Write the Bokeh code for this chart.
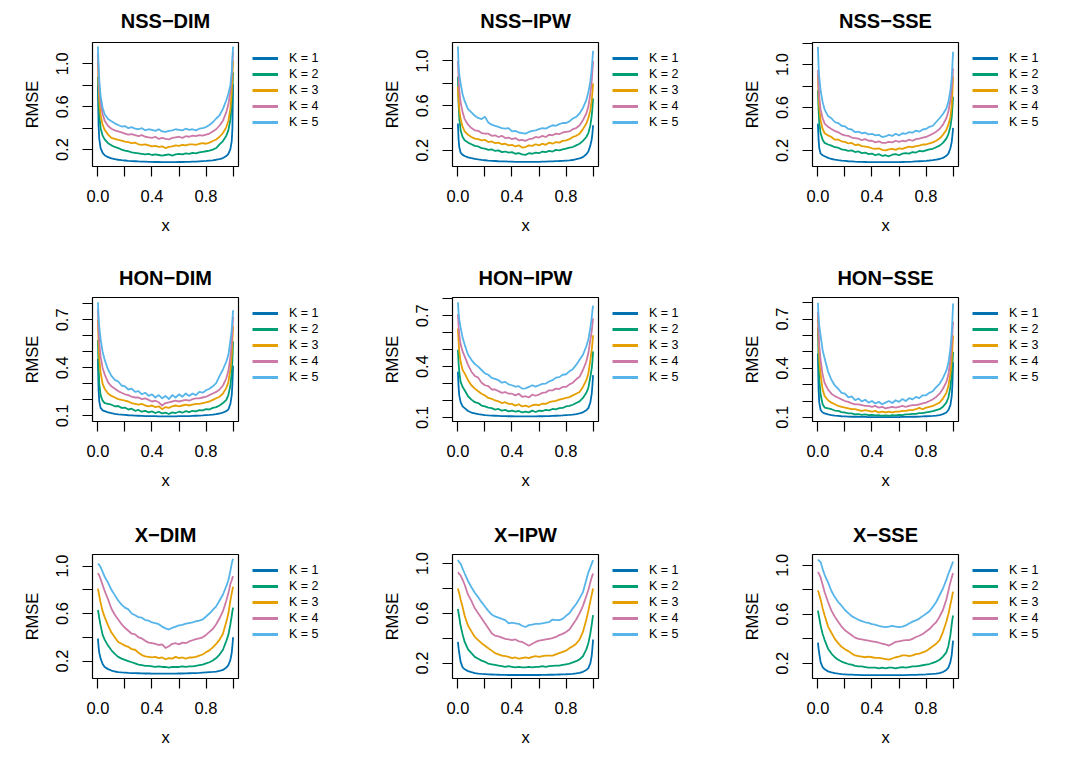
from bokeh.plotting import figure
from bokeh.layouts import gridplot
from bokeh.models import FixedTicker, Legend, LegendItem, Range1d, NumeralTickFormatter
from bokeh.embed import file_html
from bokeh.resources import INLINE

# ---------------- data ----------------
X = [0.0, 0.005, 0.01, 0.02, 0.035, 0.05, 0.075,
     0.1, 0.125, 0.15, 0.175, 0.2, 0.225, 0.25, 0.275,
     0.3, 0.325, 0.35, 0.375, 0.4, 0.425, 0.45, 0.475,
     0.5, 0.525, 0.55, 0.575, 0.6, 0.625, 0.65, 0.675,
     0.7, 0.725, 0.75, 0.775, 0.8, 0.825, 0.85, 0.875,
     0.9, 0.925, 0.95, 0.965, 0.98, 0.99, 0.995, 1.0]

K_LABELS = ["K = 1", "K = 2", "K = 3", "K = 4", "K = 5"]
COLORS = ["#0072B2", "#009E73", "#E69F00", "#CC79A7", "#56B4E9"]
TITLES = ["NSS\u2212DIM", "NSS\u2212IPW", "NSS\u2212SSE",
          "HON\u2212DIM", "HON\u2212IPW", "HON\u2212SSE",
          "X\u2212DIM", "X\u2212IPW", "X\u2212SSE"]

# NSS-DIM
nss_dim_k1 = [0.80, 0.42, 0.30, 0.215, 0.17, 0.148, 0.13,
              0.118, 0.111, 0.106, 0.102, 0.099, 0.096, 0.094, 0.092,
              0.090, 0.089, 0.088, 0.087, 0.086, 0.085, 0.085, 0.084,
              0.084, 0.084, 0.084, 0.084, 0.085, 0.085, 0.086, 0.087,
              0.088, 0.089, 0.091, 0.093, 0.095, 0.098, 0.101, 0.106,
              0.112, 0.122, 0.14, 0.16, 0.205, 0.28, 0.40, 0.81]
nss_dim_k2 = [0.88, 0.66, 0.52, 0.40, 0.33, 0.295, 0.26,
              0.24, 0.225, 0.215, 0.20, 0.19, 0.185, 0.175, 0.17,
              0.165, 0.16, 0.155, 0.16, 0.15, 0.155, 0.15, 0.145,
              0.15, 0.155, 0.145, 0.155, 0.16, 0.155, 0.165, 0.16,
              0.17, 0.165, 0.175, 0.18, 0.185, 0.19, 0.20, 0.215,
              0.25, 0.28, 0.33, 0.38, 0.48, 0.62, 0.76, 0.92]
nss_dim_k3 = [1.02, 0.80, 0.66, 0.52, 0.43, 0.385, 0.34,
              0.31, 0.30, 0.29, 0.285, 0.275, 0.27, 0.26, 0.265,
              0.25, 0.245, 0.25, 0.24, 0.23, 0.235, 0.225, 0.23,
              0.215, 0.225, 0.23, 0.24, 0.235, 0.245, 0.24, 0.25,
              0.25, 0.245, 0.255, 0.26, 0.255, 0.265, 0.28, 0.295,
              0.32, 0.355, 0.41, 0.47, 0.58, 0.74, 0.88, 1.03]
nss_dim_k4 = [1.10, 0.90, 0.77, 0.63, 0.53, 0.47, 0.42,
              0.395, 0.38, 0.37, 0.36, 0.35, 0.34, 0.345, 0.335,
              0.325, 0.335, 0.32, 0.315, 0.31, 0.32, 0.30, 0.31,
              0.30, 0.295, 0.31, 0.315, 0.32, 0.31, 0.325, 0.32,
              0.33, 0.325, 0.335, 0.33, 0.34, 0.35, 0.37, 0.39,
              0.425, 0.47, 0.55, 0.62, 0.74, 0.88, 1.00, 1.11]
nss_dim_k5 = [1.16, 0.98, 0.85, 0.70, 0.59, 0.53, 0.485,
              0.465, 0.445, 0.43, 0.415, 0.42, 0.40, 0.41, 0.395,
              0.39, 0.40, 0.38, 0.39, 0.385, 0.375, 0.39, 0.37,
              0.365, 0.375, 0.38, 0.39, 0.385, 0.38, 0.395, 0.385,
              0.39, 0.38, 0.395, 0.40, 0.41, 0.43, 0.455, 0.49,
              0.52, 0.58, 0.66, 0.72, 0.80, 0.93, 1.06, 1.16]

# NSS-IPW
nss_ipw_k1 = [0.44, 0.30, 0.23, 0.18, 0.16, 0.15, 0.137,
              0.13, 0.124, 0.119, 0.115, 0.112, 0.109, 0.107, 0.105,
              0.103, 0.102, 0.101, 0.100, 0.099, 0.098, 0.098, 0.097,
              0.097, 0.097, 0.097, 0.098, 0.098, 0.099, 0.100, 0.101,
              0.102, 0.104, 0.105, 0.107, 0.109, 0.111, 0.114, 0.121,
              0.128, 0.14, 0.165, 0.19, 0.245, 0.30, 0.35, 0.425]
nss_ipw_k2 = [0.86, 0.62, 0.49, 0.38, 0.32, 0.29, 0.27,
              0.255, 0.24, 0.235, 0.22, 0.215, 0.205, 0.21, 0.195,
              0.20, 0.185, 0.19, 0.18, 0.185, 0.17, 0.175, 0.165,
              0.16, 0.175, 0.17, 0.18, 0.175, 0.19, 0.185, 0.195,
              0.19, 0.205, 0.20, 0.21, 0.215, 0.225, 0.23, 0.245,
              0.26, 0.285, 0.32, 0.355, 0.425, 0.51, 0.58, 0.665]
nss_ipw_k3 = [0.77, 0.65, 0.57, 0.48, 0.41, 0.37, 0.34,
              0.32, 0.305, 0.30, 0.29, 0.295, 0.275, 0.28, 0.265,
              0.27, 0.255, 0.26, 0.245, 0.25, 0.235, 0.245, 0.225,
              0.23, 0.245, 0.24, 0.255, 0.245, 0.26, 0.25, 0.27,
              0.26, 0.275, 0.27, 0.285, 0.29, 0.30, 0.32, 0.33,
              0.35, 0.39, 0.44, 0.49, 0.56, 0.65, 0.72, 0.80]
nss_ipw_k4 = [1.00, 0.85, 0.74, 0.63, 0.54, 0.48, 0.43,
              0.40, 0.38, 0.375, 0.355, 0.35, 0.35, 0.33, 0.335,
              0.32, 0.33, 0.31, 0.315, 0.30, 0.31, 0.29, 0.295,
              0.285, 0.30, 0.305, 0.32, 0.315, 0.33, 0.32, 0.34,
              0.335, 0.35, 0.345, 0.36, 0.365, 0.37, 0.39, 0.40,
              0.425, 0.47, 0.53, 0.59, 0.71, 0.82, 0.91, 1.00]
nss_ipw_k5 = [1.13, 0.96, 0.88, 0.80, 0.70, 0.64, 0.57,
              0.54, 0.51, 0.49, 0.48, 0.50, 0.45, 0.43, 0.42,
              0.41, 0.40, 0.395, 0.40, 0.37, 0.375, 0.36, 0.355,
              0.35, 0.365, 0.375, 0.38, 0.39, 0.40, 0.395, 0.41,
              0.425, 0.42, 0.435, 0.445, 0.445, 0.46, 0.485, 0.50,
              0.53, 0.58, 0.65, 0.72, 0.82, 0.93, 1.01, 1.09]

# NSS-SSE
nss_sse_k1 = [0.45, 0.30, 0.22, 0.17, 0.155, 0.145, 0.13,
              0.12, 0.114, 0.109, 0.105, 0.102, 0.099, 0.097, 0.095,
              0.094, 0.093, 0.092, 0.091, 0.091, 0.090, 0.090, 0.090,
              0.090, 0.090, 0.090, 0.091, 0.091, 0.092, 0.093, 0.094,
              0.095, 0.097, 0.099, 0.101, 0.103, 0.106, 0.110, 0.115,
              0.12, 0.13, 0.15, 0.17, 0.22, 0.28, 0.34, 0.41]
nss_sse_k2 = [0.76, 0.58, 0.46, 0.36, 0.30, 0.27, 0.255,
              0.245, 0.23, 0.225, 0.21, 0.205, 0.195, 0.20, 0.185,
              0.19, 0.175, 0.18, 0.165, 0.17, 0.155, 0.165, 0.15,
              0.155, 0.145, 0.16, 0.165, 0.155, 0.17, 0.175, 0.17,
              0.185, 0.18, 0.195, 0.19, 0.20, 0.21, 0.215, 0.23,
              0.245, 0.27, 0.31, 0.35, 0.42, 0.51, 0.60, 0.70]
nss_sse_k3 = [0.90, 0.72, 0.60, 0.48, 0.40, 0.36, 0.34,
              0.325, 0.30, 0.30, 0.285, 0.28, 0.265, 0.27, 0.25,
              0.255, 0.24, 0.235, 0.23, 0.22, 0.215, 0.22, 0.205,
              0.20, 0.21, 0.215, 0.205, 0.22, 0.215, 0.225, 0.235,
              0.23, 0.24, 0.245, 0.255, 0.255, 0.265, 0.275, 0.29,
              0.31, 0.345, 0.39, 0.44, 0.51, 0.62, 0.74, 0.89]
nss_sse_k4 = [0.95, 0.80, 0.70, 0.58, 0.50, 0.45, 0.42,
              0.40, 0.38, 0.37, 0.35, 0.34, 0.335, 0.32, 0.315,
              0.31, 0.295, 0.305, 0.29, 0.29, 0.275, 0.285, 0.27,
              0.27, 0.28, 0.275, 0.29, 0.28, 0.29, 0.285, 0.30,
              0.29, 0.305, 0.31, 0.32, 0.325, 0.34, 0.355, 0.375,
              0.40, 0.44, 0.50, 0.56, 0.67, 0.78, 0.87, 0.965]
nss_sse_k5 = [1.165, 0.98, 0.88, 0.76, 0.65, 0.58, 0.52,
              0.50, 0.465, 0.455, 0.43, 0.425, 0.40, 0.395, 0.37,
              0.375, 0.36, 0.365, 0.35, 0.355, 0.34, 0.345, 0.325,
              0.33, 0.345, 0.335, 0.355, 0.34, 0.36, 0.355, 0.37,
              0.365, 0.385, 0.375, 0.395, 0.40, 0.42, 0.43, 0.465,
              0.50, 0.54, 0.59, 0.65, 0.76, 0.88, 1.00, 1.12]

# HON-DIM
hon_dim_k1 = [0.455, 0.26, 0.19, 0.15, 0.135, 0.13, 0.122,
              0.117, 0.113, 0.110, 0.108, 0.106, 0.104, 0.103, 0.102,
              0.101, 0.100, 0.099, 0.099, 0.098, 0.098, 0.097, 0.097,
              0.097, 0.097, 0.097, 0.097, 0.098, 0.098, 0.099, 0.099,
              0.100, 0.101, 0.102, 0.103, 0.105, 0.106, 0.108, 0.111,
              0.115, 0.121, 0.13, 0.14, 0.175, 0.23, 0.30, 0.414]
hon_dim_k2 = [0.575, 0.40, 0.30, 0.23, 0.195, 0.18, 0.175,
              0.17, 0.16, 0.162, 0.15, 0.152, 0.14, 0.145, 0.132,
              0.137, 0.126, 0.132, 0.122, 0.128, 0.118, 0.126, 0.116,
              0.12, 0.112, 0.122, 0.118, 0.126, 0.12, 0.13, 0.124,
              0.132, 0.128, 0.136, 0.134, 0.142, 0.14, 0.15, 0.155,
              0.165, 0.18, 0.20, 0.23, 0.29, 0.37, 0.45, 0.565]
hon_dim_k3 = [0.70, 0.55, 0.46, 0.37, 0.30, 0.27, 0.24,
              0.225, 0.215, 0.205, 0.20, 0.195, 0.19, 0.18, 0.175,
              0.17, 0.175, 0.165, 0.16, 0.165, 0.155, 0.16, 0.142,
              0.155, 0.15, 0.16, 0.165, 0.16, 0.165, 0.17, 0.165,
              0.17, 0.175, 0.175, 0.18, 0.185, 0.19, 0.20, 0.21,
              0.22, 0.24, 0.275, 0.31, 0.39, 0.48, 0.57, 0.66]
hon_dim_k4 = [0.765, 0.64, 0.56, 0.47, 0.40, 0.36, 0.31,
              0.285, 0.27, 0.255, 0.245, 0.235, 0.23, 0.22, 0.215,
              0.215, 0.205, 0.21, 0.20, 0.19, 0.195, 0.185, 0.165,
              0.18, 0.185, 0.19, 0.195, 0.19, 0.195, 0.20, 0.195,
              0.205, 0.21, 0.21, 0.215, 0.22, 0.23, 0.24, 0.25,
              0.265, 0.29, 0.335, 0.38, 0.47, 0.56, 0.64, 0.72]
hon_dim_k5 = [0.81, 0.72, 0.66, 0.58, 0.50, 0.45, 0.39,
              0.35, 0.325, 0.315, 0.29, 0.285, 0.265, 0.27, 0.25,
              0.255, 0.235, 0.245, 0.225, 0.235, 0.215, 0.23, 0.21,
              0.225, 0.205, 0.23, 0.215, 0.235, 0.22, 0.24, 0.225,
              0.24, 0.23, 0.25, 0.245, 0.26, 0.27, 0.285, 0.305,
              0.35, 0.39, 0.44, 0.48, 0.57, 0.64, 0.70, 0.76]

# HON-IPW
hon_ipw_k1 = [0.37, 0.28, 0.23, 0.19, 0.165, 0.155, 0.138,
              0.129, 0.124, 0.12, 0.117, 0.114, 0.112, 0.111, 0.11,
              0.109, 0.108, 0.108, 0.107, 0.107, 0.106, 0.106, 0.106,
              0.106, 0.106, 0.106, 0.106, 0.107, 0.107, 0.108, 0.108,
              0.109, 0.110, 0.111, 0.112, 0.114, 0.115, 0.117, 0.12,
              0.124, 0.13, 0.143, 0.155, 0.19, 0.24, 0.29, 0.35]
hon_ipw_k2 = [0.50, 0.42, 0.37, 0.31, 0.28, 0.26, 0.225,
              0.205, 0.19, 0.185, 0.17, 0.165, 0.158, 0.155, 0.146,
              0.15, 0.14, 0.145, 0.136, 0.14, 0.134, 0.138, 0.13,
              0.135, 0.13, 0.14, 0.132, 0.14, 0.138, 0.145, 0.142,
              0.15, 0.148, 0.155, 0.156, 0.165, 0.168, 0.175, 0.185,
              0.195, 0.215, 0.245, 0.275, 0.34, 0.39, 0.43, 0.49]
hon_ipw_k3 = [0.625, 0.55, 0.49, 0.43, 0.38, 0.36, 0.32,
              0.29, 0.27, 0.255, 0.24, 0.23, 0.215, 0.21, 0.20,
              0.195, 0.185, 0.19, 0.18, 0.18, 0.17, 0.178, 0.165,
              0.17, 0.162, 0.172, 0.175, 0.172, 0.182, 0.18, 0.19,
              0.195, 0.198, 0.205, 0.21, 0.215, 0.22, 0.23, 0.24,
              0.25, 0.28, 0.32, 0.36, 0.44, 0.50, 0.54, 0.585]
hon_ipw_k4 = [0.71, 0.64, 0.59, 0.53, 0.49, 0.46, 0.41,
              0.37, 0.345, 0.335, 0.305, 0.29, 0.285, 0.265, 0.265,
              0.255, 0.245, 0.25, 0.24, 0.24, 0.23, 0.24, 0.222,
              0.225, 0.218, 0.235, 0.228, 0.235, 0.245, 0.248, 0.26,
              0.26, 0.27, 0.268, 0.28, 0.28, 0.295, 0.305, 0.325,
              0.34, 0.38, 0.43, 0.48, 0.56, 0.61, 0.65, 0.685]
hon_ipw_k5 = [0.78, 0.72, 0.68, 0.63, 0.57, 0.53, 0.47,
              0.44, 0.415, 0.40, 0.38, 0.36, 0.352, 0.333, 0.328,
              0.32, 0.305, 0.31, 0.295, 0.29, 0.282, 0.285, 0.27,
              0.272, 0.28, 0.29, 0.282, 0.29, 0.298, 0.30, 0.312,
              0.32, 0.335, 0.338, 0.352, 0.355, 0.372, 0.385, 0.41,
              0.44, 0.47, 0.52, 0.56, 0.63, 0.69, 0.73, 0.76]

# HON-SSE
hon_sse_k1 = [0.49, 0.27, 0.19, 0.145, 0.13, 0.125, 0.118,
              0.114, 0.111, 0.109, 0.107, 0.106, 0.105, 0.104, 0.104,
              0.103, 0.103, 0.103, 0.102, 0.102, 0.102, 0.102, 0.102,
              0.102, 0.102, 0.102, 0.102, 0.102, 0.103, 0.103, 0.103,
              0.104, 0.104, 0.105, 0.106, 0.107, 0.108, 0.109, 0.111,
              0.114, 0.12, 0.13, 0.145, 0.175, 0.23, 0.30, 0.437]
hon_sse_k2 = [0.65, 0.45, 0.33, 0.24, 0.18, 0.16, 0.155,
              0.15, 0.142, 0.14, 0.132, 0.13, 0.124, 0.125, 0.118,
              0.12, 0.116, 0.118, 0.114, 0.116, 0.112, 0.114, 0.11,
              0.112, 0.11, 0.114, 0.113, 0.116, 0.114, 0.118, 0.118,
              0.122, 0.122, 0.126, 0.126, 0.13, 0.134, 0.138, 0.144,
              0.15, 0.165, 0.19, 0.22, 0.285, 0.36, 0.42, 0.50]
hon_sse_k3 = [0.72, 0.56, 0.46, 0.36, 0.27, 0.23, 0.205,
              0.19, 0.18, 0.17, 0.165, 0.16, 0.155, 0.15, 0.15,
              0.145, 0.14, 0.145, 0.14, 0.135, 0.14, 0.13, 0.135,
              0.13, 0.135, 0.13, 0.135, 0.135, 0.14, 0.14, 0.145,
              0.145, 0.15, 0.158, 0.15, 0.16, 0.165, 0.17, 0.18,
              0.19, 0.215, 0.25, 0.29, 0.365, 0.45, 0.52, 0.60]
hon_sse_k4 = [0.745, 0.62, 0.54, 0.45, 0.36, 0.31, 0.27,
              0.245, 0.23, 0.22, 0.21, 0.20, 0.195, 0.185, 0.18,
              0.18, 0.175, 0.17, 0.17, 0.165, 0.17, 0.16, 0.165,
              0.155, 0.16, 0.165, 0.16, 0.165, 0.17, 0.165, 0.17,
              0.175, 0.175, 0.18, 0.185, 0.19, 0.20, 0.21, 0.225,
              0.245, 0.275, 0.315, 0.36, 0.45, 0.55, 0.62, 0.685]
hon_sse_k5 = [0.80, 0.72, 0.66, 0.60, 0.51, 0.46, 0.38,
              0.33, 0.295, 0.275, 0.25, 0.245, 0.222, 0.228, 0.205,
              0.215, 0.198, 0.208, 0.19, 0.20, 0.185, 0.195, 0.18,
              0.19, 0.20, 0.188, 0.205, 0.195, 0.212, 0.20, 0.218,
              0.21, 0.225, 0.218, 0.235, 0.235, 0.25, 0.26, 0.285,
              0.305, 0.34, 0.385, 0.43, 0.52, 0.62, 0.70, 0.795]

# X-DIM
x_dim_k1 = [0.39, 0.32, 0.27, 0.22, 0.175, 0.15, 0.132,
            0.12, 0.112, 0.107, 0.104, 0.102, 0.100, 0.099, 0.098,
            0.097, 0.096, 0.095, 0.095, 0.094, 0.094, 0.094, 0.094,
            0.094, 0.094, 0.094, 0.094, 0.095, 0.095, 0.096, 0.097,
            0.098, 0.099, 0.100, 0.102, 0.104, 0.106, 0.108, 0.111,
            0.117, 0.125, 0.145, 0.165, 0.21, 0.27, 0.33, 0.40]
x_dim_k2 = [0.63, 0.60, 0.56, 0.50, 0.42, 0.38, 0.33,
            0.29, 0.26, 0.235, 0.22, 0.21, 0.20, 0.19, 0.18,
            0.17, 0.165, 0.16, 0.16, 0.155, 0.15, 0.155, 0.15,
            0.15, 0.145, 0.15, 0.15, 0.15, 0.155, 0.15, 0.155,
            0.155, 0.16, 0.165, 0.17, 0.18, 0.19, 0.205, 0.225,
            0.255, 0.295, 0.37, 0.42, 0.51, 0.58, 0.62, 0.65]
x_dim_k3 = [0.81, 0.78, 0.75, 0.69, 0.62, 0.57, 0.50,
            0.44, 0.40, 0.36, 0.345, 0.33, 0.32, 0.30, 0.295,
            0.27, 0.25, 0.24, 0.235, 0.23, 0.235, 0.225, 0.23,
            0.215, 0.225, 0.22, 0.235, 0.225, 0.23, 0.22, 0.23,
            0.23, 0.235, 0.245, 0.255, 0.275, 0.29, 0.315, 0.345,
            0.38, 0.43, 0.53, 0.60, 0.71, 0.77, 0.80, 0.825]
x_dim_k4 = [0.94, 0.93, 0.92, 0.89, 0.84, 0.79, 0.72,
            0.64, 0.59, 0.55, 0.51, 0.48, 0.455, 0.43, 0.425,
            0.40, 0.39, 0.37, 0.355, 0.35, 0.345, 0.335, 0.34,
            0.31, 0.325, 0.345, 0.35, 0.34, 0.355, 0.35, 0.365,
            0.375, 0.385, 0.39, 0.40, 0.42, 0.445, 0.47, 0.51,
            0.56, 0.62, 0.71, 0.77, 0.85, 0.88, 0.90, 0.915]
x_dim_k5 = [1.02, 1.015, 1.01, 0.99, 0.95, 0.91, 0.86,
            0.80, 0.755, 0.71, 0.675, 0.65, 0.635, 0.60, 0.585,
            0.57, 0.565, 0.545, 0.54, 0.525, 0.52, 0.51, 0.49,
            0.475, 0.465, 0.48, 0.49, 0.50, 0.505, 0.515, 0.52,
            0.525, 0.535, 0.54, 0.55, 0.575, 0.60, 0.63, 0.66,
            0.71, 0.76, 0.83, 0.88, 0.96, 1.02, 1.045, 1.06]

# X-IPW
x_ipw_k1 = [0.37, 0.32, 0.28, 0.21, 0.165, 0.15, 0.135,
            0.127, 0.12, 0.116, 0.113, 0.111, 0.109, 0.108, 0.107,
            0.106, 0.105, 0.105, 0.104, 0.104, 0.104, 0.104, 0.104,
            0.104, 0.104, 0.104, 0.104, 0.104, 0.105, 0.105, 0.106,
            0.106, 0.107, 0.108, 0.109, 0.110, 0.112, 0.114, 0.117,
            0.121, 0.13, 0.145, 0.16, 0.20, 0.26, 0.32, 0.39]
x_ipw_k2 = [0.635, 0.60, 0.57, 0.50, 0.43, 0.37, 0.31,
            0.28, 0.25, 0.235, 0.22, 0.21, 0.195, 0.19, 0.185,
            0.18, 0.175, 0.17, 0.175, 0.17, 0.165, 0.17, 0.165,
            0.165, 0.17, 0.165, 0.17, 0.17, 0.175, 0.17, 0.175,
            0.178, 0.18, 0.18, 0.185, 0.19, 0.195, 0.205, 0.215,
            0.23, 0.255, 0.31, 0.36, 0.44, 0.51, 0.55, 0.585]
x_ipw_k3 = [0.80, 0.78, 0.76, 0.71, 0.65, 0.58, 0.50,
            0.455, 0.41, 0.385, 0.36, 0.34, 0.32, 0.30, 0.28,
            0.27, 0.26, 0.255, 0.25, 0.24, 0.245, 0.235, 0.24,
            0.245, 0.24, 0.25, 0.255, 0.25, 0.255, 0.26, 0.26,
            0.26, 0.27, 0.28, 0.29, 0.30, 0.32, 0.335, 0.355,
            0.39, 0.45, 0.55, 0.62, 0.70, 0.75, 0.775, 0.80]
x_ipw_k4 = [0.93, 0.925, 0.915, 0.905, 0.87, 0.83, 0.75,
            0.70, 0.64, 0.60, 0.56, 0.52, 0.48, 0.44, 0.42,
            0.415, 0.405, 0.395, 0.39, 0.385, 0.39, 0.375, 0.37,
            0.355, 0.34, 0.355, 0.37, 0.38, 0.385, 0.39, 0.395,
            0.40, 0.41, 0.425, 0.435, 0.45, 0.47, 0.51, 0.55,
            0.60, 0.66, 0.74, 0.79, 0.85, 0.89, 0.905, 0.92]
x_ipw_k5 = [1.03, 1.02, 1.01, 1.00, 0.96, 0.92, 0.86,
            0.81, 0.765, 0.73, 0.69, 0.655, 0.62, 0.59, 0.575,
            0.565, 0.555, 0.545, 0.52, 0.525, 0.52, 0.515, 0.50,
            0.49, 0.505, 0.51, 0.515, 0.515, 0.52, 0.525, 0.53,
            0.55, 0.545, 0.545, 0.555, 0.58, 0.60, 0.64, 0.675,
            0.72, 0.77, 0.87, 0.93, 0.97, 1.00, 1.015, 1.027]

# X-SSE
x_sse_k1 = [0.37, 0.32, 0.28, 0.21, 0.17, 0.152, 0.135,
            0.127, 0.12, 0.116, 0.113, 0.111, 0.109, 0.108, 0.107,
            0.106, 0.105, 0.105, 0.104, 0.104, 0.104, 0.104, 0.104,
            0.104, 0.104, 0.104, 0.104, 0.104, 0.105, 0.105, 0.106,
            0.106, 0.107, 0.108, 0.109, 0.110, 0.112, 0.114, 0.117,
            0.121, 0.13, 0.147, 0.165, 0.21, 0.27, 0.33, 0.386]
x_sse_k2 = [0.63, 0.60, 0.57, 0.51, 0.44, 0.39, 0.32,
            0.28, 0.25, 0.23, 0.215, 0.205, 0.195, 0.19, 0.18,
            0.175, 0.175, 0.17, 0.165, 0.165, 0.165, 0.16, 0.165,
            0.16, 0.165, 0.165, 0.16, 0.165, 0.17, 0.165, 0.17,
            0.175, 0.175, 0.18, 0.185, 0.19, 0.195, 0.205, 0.215,
            0.23, 0.255, 0.29, 0.34, 0.43, 0.52, 0.56, 0.59]
x_sse_k3 = [0.795, 0.78, 0.76, 0.72, 0.65, 0.59, 0.50,
            0.45, 0.40, 0.365, 0.335, 0.315, 0.30, 0.28, 0.265,
            0.26, 0.255, 0.25, 0.255, 0.25, 0.245, 0.245, 0.24,
            0.235, 0.23, 0.24, 0.25, 0.255, 0.265, 0.265, 0.26,
            0.265, 0.275, 0.28, 0.29, 0.30, 0.32, 0.34, 0.36,
            0.39, 0.455, 0.54, 0.60, 0.68, 0.73, 0.76, 0.785]
x_sse_k4 = [0.945, 0.935, 0.925, 0.90, 0.84, 0.78, 0.70,
            0.63, 0.58, 0.54, 0.50, 0.47, 0.45, 0.43, 0.41,
            0.40, 0.395, 0.39, 0.385, 0.38, 0.375, 0.37, 0.36,
            0.355, 0.345, 0.36, 0.375, 0.38, 0.385, 0.39, 0.39,
            0.40, 0.415, 0.425, 0.44, 0.46, 0.48, 0.51, 0.535,
            0.58, 0.635, 0.72, 0.79, 0.86, 0.90, 0.92, 0.935]
x_sse_k5 = [1.045, 1.04, 1.035, 1.025, 0.97, 0.92, 0.86,
            0.79, 0.74, 0.70, 0.67, 0.635, 0.61, 0.585, 0.57,
            0.555, 0.545, 0.535, 0.53, 0.52, 0.515, 0.505, 0.50,
            0.495, 0.50, 0.505, 0.50, 0.495, 0.50, 0.51, 0.525,
            0.54, 0.55, 0.565, 0.585, 0.605, 0.625, 0.66, 0.70,
            0.755, 0.81, 0.88, 0.93, 0.97, 1.00, 1.015, 1.03]

SERIES = [
    [nss_dim_k1, nss_dim_k2, nss_dim_k3, nss_dim_k4, nss_dim_k5],
    [nss_ipw_k1, nss_ipw_k2, nss_ipw_k3, nss_ipw_k4, nss_ipw_k5],
    [nss_sse_k1, nss_sse_k2, nss_sse_k3, nss_sse_k4, nss_sse_k5],
    [hon_dim_k1, hon_dim_k2, hon_dim_k3, hon_dim_k4, hon_dim_k5],
    [hon_ipw_k1, hon_ipw_k2, hon_ipw_k3, hon_ipw_k4, hon_ipw_k5],
    [hon_sse_k1, hon_sse_k2, hon_sse_k3, hon_sse_k4, hon_sse_k5],
    [x_dim_k1, x_dim_k2, x_dim_k3, x_dim_k4, x_dim_k5],
    [x_ipw_k1, x_ipw_k2, x_ipw_k3, x_ipw_k4, x_ipw_k5],
    [x_sse_k1, x_sse_k2, x_sse_k3, x_sse_k4, x_sse_k5],
]

# axis limits and ticks per panel
YLIMS = [(0.043, 1.198), (0.056, 1.165), (0.05, 1.206),
         (0.065, 0.84), (0.076, 0.808), (0.075, 0.832),
         (0.053, 1.097), (0.076, 1.073), (0.077, 1.087)]
Y_MAJOR = [[0.2, 0.6, 1.0]] * 3 + [[0.1, 0.4, 0.7]] * 3 + [[0.2, 0.6, 1.0]] * 3
Y_MINOR = [[0.4, 0.8, 1.2]] * 3 + [[0.2, 0.3, 0.5, 0.6, 0.8]] * 3 + [[0.4, 0.8]] * 3
X_MAJOR = [0.0, 0.4, 0.8]
X_MINOR = [0.2, 0.6, 1.0]
XLIM = (-0.04, 1.04)

# ---------------- layout / style ----------------
FONT = "Liberation Sans"
LEFT_BORDER = 92
RIGHT_BORDER = 2
LEG_W = 120
LEG_MARGIN = 8
ROW_TOP = [42, 40, 40]
ROW_H = [257, 257, 256]
TITLE_STANDOFF = [17, 14, 14]
FRAME_W, FRAME_H = 146, 124
NAN = float("nan")


def style_axis(ax, major, minor):
    ax.ticker = FixedTicker(ticks=major, minor_ticks=minor)
    ax.formatter = NumeralTickFormatter(format="0.0")
    ax.axis_line_color = None
    ax.major_tick_in = 0
    ax.major_tick_out = 10
    ax.minor_tick_in = 0
    ax.minor_tick_out = 10
    ax.major_tick_line_color = "black"
    ax.minor_tick_line_color = "black"
    ax.major_tick_line_width = 1.2
    ax.minor_tick_line_width = 1.2
    ax.major_label_text_font = FONT
    ax.major_label_text_font_size = "16.5px"
    ax.major_label_text_color = "black"
    ax.axis_label_text_font = FONT
    ax.axis_label_text_font_size = "16.5px"
    ax.axis_label_text_font_style = "normal"
    ax.axis_label_text_color = "black"


rows = [[], [], []]
for i in range(9):
    r, c = divmod(i, 3)
    h = ROW_H[r]
    bottom = h - ROW_TOP[r] - FRAME_H
    p = figure(width=LEFT_BORDER + FRAME_W + RIGHT_BORDER, height=h,
               x_range=Range1d(*XLIM), y_range=Range1d(*YLIMS[i]),
               min_border_left=LEFT_BORDER, min_border_right=RIGHT_BORDER,
               min_border_top=ROW_TOP[r], min_border_bottom=bottom,
               output_backend="svg", toolbar_location=None, title=TITLES[i])
    p.grid.visible = False
    p.outline_line_color = "black"
    p.outline_line_width = 1.2
    p.outline_line_alpha = 1.0
    p.background_fill_color = "white"
    p.border_fill_color = "white"
    p.title.align = "center"
    p.title.vertical_align = "top"
    p.title.text_font = FONT
    p.title.text_font_style = "bold"
    p.title.text_font_size = "20px"
    p.title.text_color = "black"
    p.title.standoff = TITLE_STANDOFF[r]

    style_axis(p.xaxis[0], X_MAJOR, X_MINOR)
    style_axis(p.yaxis[0], Y_MAJOR[i], Y_MINOR[i])
    p.xaxis[0].axis_label = "x"
    p.yaxis[0].axis_label = "RMSE"
    p.xaxis[0].major_label_standoff = 13
    p.xaxis[0].axis_label_standoff = 11
    p.yaxis[0].major_label_orientation = "parallel"
    p.yaxis[0].major_label_standoff = 14
    p.yaxis[0].axis_label_standoff = 13

    for k in range(5):
        p.line(X, SERIES[i][k], line_color=COLORS[k], line_width=1.8,
               line_join="round")

    # legend lives in a narrow companion figure right of the plot box
    lf = figure(width=LEG_W, height=h, x_axis_type=None, y_axis_type=None,
                x_range=Range1d(0, 1), y_range=Range1d(0, 1),
                min_border_left=12 - LEG_MARGIN, min_border_top=ROW_TOP[r],
                min_border_right=0, min_border_bottom=bottom,
                output_backend="svg", toolbar_location=None)
    lf.outline_line_color = None
    lf.background_fill_color = "white"
    lf.border_fill_color = "white"
    items = []
    for k in range(5):
        dummy = lf.line(x=[NAN], y=[NAN], line_color=COLORS[k], line_width=3)
        items.append(LegendItem(label=K_LABELS[k], renderers=[dummy]))
    leg = Legend(items=items, location="top_left", orientation="vertical",
                 glyph_width=26, glyph_height=16, label_height=16,
                 label_standoff=11, spacing=0, padding=0, margin=LEG_MARGIN,
                 border_line_alpha=0, background_fill_alpha=0,
                 label_text_font=FONT, label_text_font_size="12.5px",
                 label_text_color="black")
    lf.add_layout(leg)
    rows[r].extend([p, lf])

grid = gridplot(rows, toolbar_location=None)

open("out.html", "w").write(file_html(grid, INLINE))
